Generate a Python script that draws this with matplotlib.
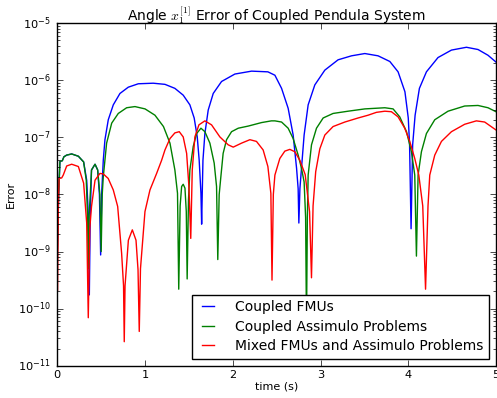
import matplotlib
matplotlib.use("Agg")
import matplotlib.pyplot as plt

# ---- data ----
t_fmu = [0.000, 0.015, 0.030, 0.057, 0.075, 0.107, 0.164, 0.240, 0.300, 0.335,
         0.355, 0.365, 0.375, 0.390, 0.430, 0.460, 0.480, 0.494, 0.506, 0.524,
         0.543, 0.581, 0.638, 0.714, 0.809, 0.923, 1.093, 1.227, 1.340, 1.435,
         1.511, 1.560, 1.595, 1.617, 1.637, 1.645, 1.652, 1.660, 1.682, 1.720,
         1.777, 1.872, 2.024, 2.214, 2.400, 2.480, 2.556, 2.631, 2.688, 2.727,
         2.745, 2.753, 2.765, 2.783, 2.813, 2.859, 2.935, 3.049, 3.200, 3.353,
         3.505, 3.656, 3.790, 3.884, 3.962, 4.000, 4.015, 4.032, 4.050, 4.078,
         4.127, 4.207, 4.339, 4.492, 4.663, 4.795, 4.909, 5.000]
err_fmu = [1.0e-9, 1.0e-8, 3.8e-8, 3.9e-8, 4.57e-8, 4.9e-8, 5.13e-8, 4.68e-8, 3.72e-8, 1.78e-8,
           3.98e-9, 1.74e-10, 3.98e-9, 2.69e-8, 3.39e-8, 2.69e-8, 1.0e-8, 8.71e-10, 1.05e-8, 3.98e-8,
           9.12e-8, 2.04e-7, 3.72e-7, 5.89e-7, 7.59e-7, 8.71e-7, 8.91e-7, 8.51e-7, 7.24e-7, 5.5e-7,
           3.72e-7, 2.19e-7, 1.02e-7, 3.98e-8, 1.05e-8, 3.02e-9, 1.05e-8, 3.98e-8, 1.17e-7, 3.02e-7,
           5.89e-7, 9.55e-7, 1.29e-6, 1.45e-6, 1.41e-6, 1.23e-6, 7.24e-7, 3.24e-7, 1.1e-7, 2.88e-8,
           1.26e-8, 3.16e-9, 1.26e-8, 2.88e-8, 1.1e-7, 3.72e-7, 8.32e-7, 1.51e-6, 2.29e-6, 2.69e-6,
           2.95e-6, 2.69e-6, 2.14e-6, 1.41e-6, 6.31e-7, 2.19e-7, 7.41e-8, 2.51e-9, 7.41e-8, 2.45e-7,
           7.24e-7, 1.41e-6, 2.51e-6, 3.39e-6, 3.8e-6, 3.47e-6, 2.75e-6, 2.09e-6]

t_assimulo = [0.000, 0.015, 0.030, 0.057, 0.075, 0.107, 0.164, 0.240, 0.300, 0.330,
              0.345, 0.353, 0.362, 0.390, 0.430, 0.460, 0.485, 0.500, 0.512, 0.524,
              0.562, 0.620, 0.695, 0.790, 0.885, 1.000, 1.113, 1.210, 1.284, 1.340,
              1.370, 1.384, 1.400, 1.417, 1.435, 1.455, 1.470, 1.480, 1.495, 1.511,
              1.549, 1.588, 1.637, 1.682, 1.739, 1.788, 1.815, 1.829, 1.845, 1.864,
              1.890, 1.929, 1.986, 2.062, 2.176, 2.328, 2.440, 2.480, 2.556, 2.631,
              2.688, 2.745, 2.783, 2.813, 2.830, 2.840, 2.850, 2.859, 2.897, 2.954,
              3.030, 3.143, 3.314, 3.505, 3.733, 3.827, 3.903, 3.980, 4.036, 4.074,
              4.093, 4.112, 4.150, 4.207, 4.302, 4.453, 4.643, 4.795, 4.909, 5.000]
err_assimulo = [1.0e-9, 1.0e-8, 3.8e-8, 3.9e-8, 4.57e-8, 4.9e-8, 5.13e-8, 4.68e-8, 3.72e-8, 1.78e-8,
                3.98e-9, 5.01e-10, 3.98e-9, 2.69e-8, 3.39e-8, 2.69e-8, 1.0e-8, 1.0e-9, 1.0e-8, 2.04e-8,
                7.94e-8, 1.78e-7, 2.63e-7, 3.31e-7, 3.47e-7, 3.16e-7, 2.45e-7, 1.55e-7, 7.94e-8, 2.69e-8,
                1.05e-8, 2.19e-10, 6.31e-9, 1.38e-8, 1.51e-8, 1.29e-8, 5.01e-9, 3.31e-10, 7.94e-9, 2.69e-8,
                6.92e-8, 1.17e-7, 1.45e-7, 1.26e-7, 7.94e-8, 3.55e-8, 1.38e-8, 7.24e-10, 1.0e-8, 2.04e-8,
                5.25e-8, 9.12e-8, 1.26e-7, 1.45e-7, 1.58e-7, 1.82e-7, 1.95e-7, 1.95e-7, 1.86e-7, 1.45e-7,
                9.55e-8, 4.9e-8, 2.88e-8, 1.66e-8, 3.98e-9, 5.0e-11, 3.98e-9, 2.19e-8, 7.41e-8, 1.45e-7,
                2.19e-7, 2.63e-7, 2.88e-7, 3.16e-7, 3.31e-7, 3.16e-7, 2.29e-7, 1.26e-7, 5.62e-8, 2.19e-8,
                8.32e-10, 2.19e-8, 5.62e-8, 1.17e-7, 2.04e-7, 2.88e-7, 3.55e-7, 3.63e-7, 3.31e-7, 2.82e-7]

t_mixed = [0.003, 0.012, 0.020, 0.050, 0.068, 0.107, 0.164, 0.240, 0.300, 0.335,
           0.353, 0.370, 0.390, 0.430, 0.486, 0.524, 0.580, 0.638, 0.688, 0.733,
           0.755, 0.763, 0.772, 0.810, 0.855, 0.897, 0.920, 0.934, 0.948, 0.999,
           1.056, 1.132, 1.189, 1.227, 1.284, 1.340, 1.390, 1.435, 1.474, 1.500,
           1.521, 1.538, 1.568, 1.614, 1.682, 1.758, 1.853, 1.948, 2.005, 2.100,
           2.195, 2.270, 2.346, 2.400, 2.434, 2.447, 2.462, 2.480, 2.536, 2.593,
           2.650, 2.707, 2.764, 2.825, 2.875, 2.897, 2.915, 2.945, 2.992, 3.049,
           3.143, 3.277, 3.428, 3.542, 3.637, 3.733, 3.808, 3.884, 3.960, 4.017,
           4.074, 4.120, 4.165, 4.197, 4.225, 4.245, 4.302, 4.378, 4.492, 4.643,
           4.776, 4.871, 5.000]
err_mixed = [2.09e-10, 6.31e-9, 1.91e-8, 1.95e-8, 2.19e-8, 3.16e-8, 3.39e-8, 3.09e-8, 1.58e-8, 3.16e-9,
             6.92e-11, 2.51e-9, 6.17e-9, 1.78e-8, 2.34e-8, 2.29e-8, 1.91e-8, 1.2e-8, 6.17e-9, 9.33e-10,
             2.51e-10, 2.63e-11, 2.51e-10, 1.58e-9, 2.4e-9, 1.58e-9, 4.79e-10, 3.98e-11, 5.01e-10, 5.01e-9,
             1.2e-8, 2.34e-8, 3.98e-8, 6.03e-8, 9.55e-8, 1.2e-7, 1.26e-7, 1.02e-7, 5.25e-8, 1.38e-8,
             1.7e-9, 2.69e-8, 1.02e-7, 1.66e-7, 1.95e-7, 1.66e-7, 1.02e-7, 7.41e-8, 6.76e-8, 7.94e-8,
             9.12e-8, 8.51e-8, 6.03e-8, 3.09e-8, 1.05e-8, 3.16e-10, 1.0e-8, 2.19e-8, 4.27e-8, 5.75e-8,
             6.17e-8, 5.62e-8, 3.98e-8, 2.24e-8, 5.01e-9, 3.47e-10, 6.31e-9, 2.51e-8, 6.31e-8, 1.1e-7,
             1.55e-7, 1.86e-7, 2.19e-7, 2.45e-7, 2.75e-7, 2.88e-7, 2.82e-7, 2.29e-7, 1.45e-7, 8.51e-8,
             4.27e-8, 2.19e-8, 6.31e-9, 2.19e-10, 6.31e-9, 2.19e-8, 4.9e-8, 8.51e-8, 1.26e-7, 1.7e-7,
             1.95e-7, 1.86e-7, 1.35e-7]

series_labels = ["Coupled FMUs", "Coupled Assimulo Problems",
                 "Mixed FMUs and Assimulo Problems"]
title_text = r"Angle $x_1^{[1]}$ Error of Coupled Pendula System"
x_label = "time (s)"
y_label = "Error"

# ---- drawing ----
plt.style.use("classic")
plt.rcParams["font.family"] = ["DejaVu Sans"]

fig = plt.figure(figsize=(4.97, 3.98), dpi=100, facecolor="white")
ax = fig.add_axes([0.1153, 0.0812, 0.8827, 0.8603])
ax.set_facecolor("white")

ax.plot(t_fmu, err_fmu, color="b", lw=1.0, label=series_labels[0])
ax.plot(t_assimulo, err_assimulo, color="g", lw=1.0, label=series_labels[1])
ax.plot(t_mixed, err_mixed, color="r", lw=1.0, label=series_labels[2])

ax.set_yscale("log")
ax.set_xlim(0, 5)
ax.set_ylim(1e-11, 1e-5)
ax.tick_params(axis="both", which="major", labelsize=8.2)
ax.tick_params(axis="x", pad=3)
ax.tick_params(axis="y", pad=5)
ax.set_title(title_text, fontsize=10, pad=2)
ax.set_xlabel(x_label, fontsize=8, labelpad=1)
ax.set_ylabel(y_label, fontsize=8, labelpad=1)

leg = ax.legend(loc="lower right", fontsize=10, frameon=True,
                handlelength=1.5, handletextpad=1.2, borderaxespad=0.5,
                labelspacing=0.4)
leg.get_frame().set_edgecolor("black")

fig.savefig("out.png", dpi=100, facecolor="white")
